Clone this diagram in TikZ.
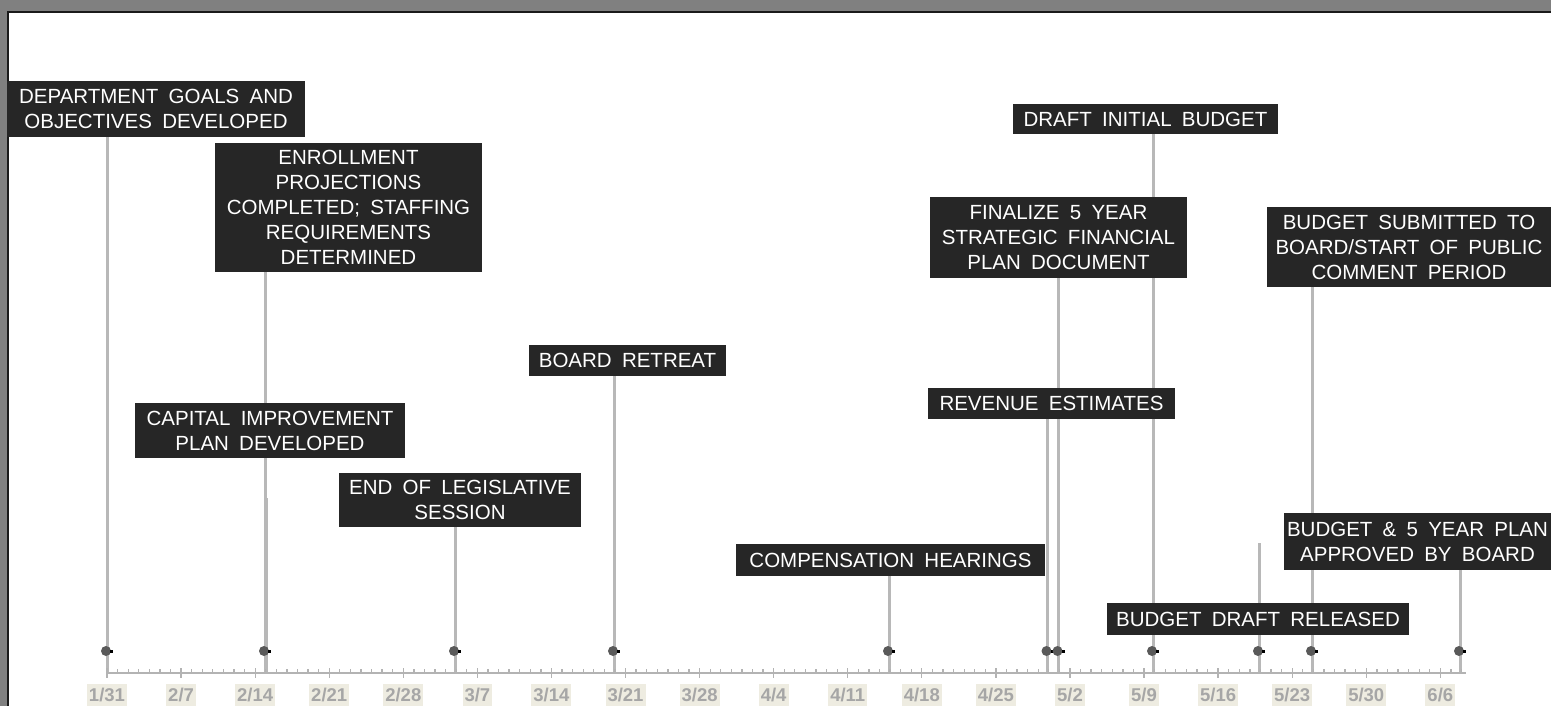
\documentclass[tikz,border=0pt]{standalone}
\usepackage{fontspec}
\setmainfont{Liberation Sans}
\usetikzlibrary{backgrounds}
\definecolor{boxc}{HTML}{262626}
\definecolor{evc}{HTML}{B8B8B8}
\definecolor{axc}{HTML}{B3B3B3}
\definecolor{dotc}{HTML}{595959}
\definecolor{labbg}{HTML}{EEECE1}
\definecolor{labtx}{HTML}{A6A6A6}
\definecolor{framec}{HTML}{808080}
\definecolor{framel}{HTML}{1A1A1A}
\newcommand\myevfont{\fontsize{20.5}{25}\selectfont\setlength{\spaceskip}{0.5em}}
\tikzset{
  evbox/.style={fill=boxc, text=white, inner sep=0pt, align=center, font=\myevfont},
  evline/.style={draw=evc, line width=3pt},
  dotm/.style={circle, fill=dotc, minimum size=10pt, inner sep=0pt},
  sqm/.style={rectangle, fill=black, minimum size=3pt, inner sep=0pt, anchor=west},
  datelab/.style={fill=labbg, text=labtx, font=\bfseries\fontsize{18.5}{18.5}\selectfont,
    inner xsep=2pt, inner ysep=0pt, minimum height=22pt, text height=13pt, text depth=0pt},
  axline/.style={draw=axc, line width=2pt},
  tickm/.style={draw=axc, line width=1.3pt},
}
\begin{document}
\begin{tikzpicture}[x=1pt,y=-1pt]
\useasboundingbox (0,0) rectangle (1551,706);

% event boxes
\node[evbox, minimum width=298pt, minimum height=56pt] (b1) at (156,109) {DEPARTMENT GOALS AND\\OBJECTIVES DEVELOPED};
\node[evbox, minimum width=267pt, minimum height=129pt] (b2) at (348.5,207.5) {ENROLLMENT\\PROJECTIONS\\COMPLETED; STAFFING\\REQUIREMENTS\\DETERMINED};
\node[evbox, minimum width=270pt, minimum height=55pt] (b3) at (270,430.5) {CAPITAL IMPROVEMENT\\PLAN DEVELOPED};
\node[evbox, minimum width=242pt, minimum height=54pt] (b4) at (460,500) {END OF LEGISLATIVE\\SESSION};
\node[evbox, minimum width=197pt, minimum height=31pt] (b5) at (627.5,360.5) {BOARD RETREAT};
\node[evbox, minimum width=309pt, minimum height=32pt] (b6) at (890.5,560) {COMPENSATION HEARINGS};
\node[evbox, minimum width=247pt, minimum height=31pt] (b7) at (1051.5,403.5) {REVENUE ESTIMATES};
\node[evbox, minimum width=257pt, minimum height=80pt] (b8) at (1058.5,237.5) {FINALIZE 5 YEAR\\STRATEGIC FINANCIAL\\PLAN DOCUMENT};
\node[evbox, minimum width=265pt, minimum height=30pt] (b9) at (1145.5,119) {DRAFT INITIAL BUDGET};
\node[evbox, minimum width=284pt, minimum height=80pt] (b10) at (1409,247) {BUDGET SUBMITTED TO\\BOARD/START OF PUBLIC\\COMMENT PERIOD};
\node[evbox, minimum width=267pt, minimum height=57pt] (b11) at (1417.5,541.5) {BUDGET \& 5 YEAR PLAN\\APPROVED BY BOARD};
\node[evbox, minimum width=302pt, minimum height=32pt] (b12) at (1258,619) {BUDGET DRAFT RELEASED};

% axis coordinates (event dates)
\foreach \i/\x in {1/107,2/265,3/266.5,4/455,5/614,6/889,7/1047.5,8/1058.5,9/1153,10/1259,11/1312,12/1460}
  \coordinate (a\i) at (\x,673);
\coordinate (t3) at (266.5,498);
\coordinate (t10) at (1259,543);
\coordinate (ax0) at (107,673);
\coordinate (ax1) at (1466,673);

\begin{pgfonlayer}{background}
% frame
\fill[white] (0,0) rectangle (1551,706);
\fill[framec] (0,0) rectangle (1551,11);
\fill[framec] (0,0) rectangle (7,706);
\draw[framel, line width=1.6pt] (8,706) -- (8,11.8) -- (1551,11.8);

% event lines
\draw[evline] (a1) -- (a1 |- b1.south);
\draw[evline] (a2) -- (a2 |- b2.south);
\draw[evline] (a3) -- (t3);
\draw[evline] (a4) -- (a4 |- b4.south);
\draw[evline] (a5) -- (a5 |- b5.south);
\draw[evline] (a6) -- (a6 |- b6.south);
\draw[evline] (a7) -- (a7 |- b7.south);
\draw[evline] (a8) -- (a8 |- b8.south);
\draw[evline] (a9) -- (a9 |- b9.south);
\draw[evline] (a10) -- (t10);
\draw[evline] (a11) -- (a11 |- b10.south);
\draw[evline] (a12) -- (a12 |- b11.south);

% axis
\draw[axline] (ax0) -- (ax1);
\foreach \d in {0,...,128}{
  \pgfmathsetmacro{\xx}{107+10.582*\d}
  \pgfmathtruncatemacro{\mm}{mod(\d,7)}
  \ifnum\mm=0
    \draw[tickm] (\xx,668) -- (\xx,678);
  \else
    \draw[tickm] (\xx,669) -- (\xx,673);
  \fi
}
% date labels
\foreach \lab [count=\k from 0] in {{1/31},{2/7},{2/14},{2/21},{2/28},{3/7},{3/14},{3/21},{3/28},{4/4},{4/11},{4/18},{4/25},{5/2},{5/9},{5/16},{5/23},{5/30},{6/6}}{
  \pgfmathsetmacro{\xx}{107+74.074*\k}
  \node[datelab] (lab\k) at (\xx,695) {\lab};
}
\end{pgfonlayer}

% markers
\foreach \i/\x in {1/107,2/265,4/455,5/614,6/889,7/1047.5,8/1058.5,9/1153,10/1259,11/1312,12/1460}{
  \node[dotm] (d\i) at (\x-1,651) {};
  \node[sqm] (s\i) at (\x+3,651) {};
}
\end{tikzpicture}
\end{document}
